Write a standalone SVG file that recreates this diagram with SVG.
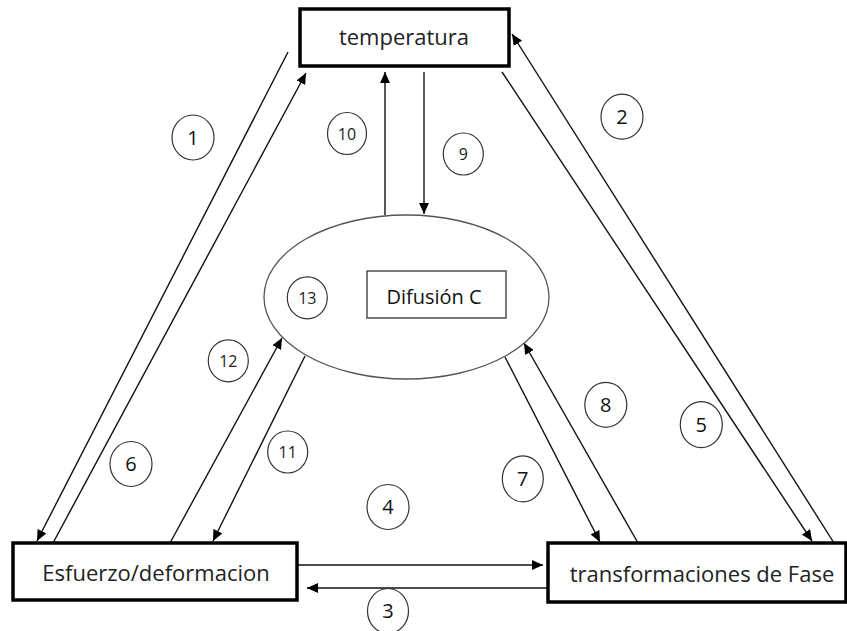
<svg xmlns="http://www.w3.org/2000/svg" width="847" height="631" viewBox="0 0 847 631">
<defs>
<marker id="ah" viewBox="0 0 10 9" refX="10" refY="4.5" markerWidth="11" markerHeight="10" markerUnits="userSpaceOnUse" orient="auto">
<path d="M0,0 L10,4.5 L0,9 z" fill="#000"/>
</marker>
<style>
.box{fill:#fff;stroke:#000;stroke-width:3.5}
.lbl{font-family:"Open Sans","Noto Sans",sans-serif;font-size:22px;fill:#222;text-anchor:middle}
.c{fill:none;stroke:#333;stroke-width:1.2}
.n{font-family:"Open Sans","Noto Sans",sans-serif;font-size:20px;fill:#111;text-anchor:middle}
.ns{font-family:"Open Sans","Noto Sans",sans-serif;font-size:16px;fill:#222;text-anchor:middle}
.ln{stroke:#111;stroke-width:1.4;fill:none}
.ar{stroke:#111;stroke-width:1.4;fill:none;marker-end:url(#ah)}
</style>
</defs>
<rect width="847" height="631" fill="#fff"/>
<g id="connectors">
<line class="ar" x1="288" y1="52" x2="37" y2="541"/>
<line class="ar" x1="53" y1="543" x2="306" y2="73"/>
<line class="ar" x1="834" y1="543" x2="512" y2="34"/>
<line class="ar" x1="502" y1="72" x2="812" y2="541"/>
<line class="ar" x1="385" y1="215" x2="385" y2="72"/>
<line class="ar" x1="424" y1="72" x2="424" y2="214"/>
<line class="ar" x1="170" y1="543" x2="282" y2="338"/>
<line class="ar" x1="305" y1="356" x2="213" y2="541"/>
<line class="ar" x1="505" y1="357" x2="600" y2="542"/>
<line class="ar" x1="638" y1="543" x2="524" y2="343"/>
<line class="ar" x1="297" y1="565" x2="543" y2="565"/>
<line class="ar" x1="548" y1="588" x2="307" y2="588"/>
</g>
<g id="temperatura">
<rect class="box" x="300" y="9" width="209" height="57"/>
<text class="lbl" x="404" y="45">temperatura</text>
</g>
<g id="esfuerzo">
<rect class="box" x="13" y="543" width="284" height="57"/>
<text class="lbl" x="156" y="581">Esfuerzo/deformacion</text>
</g>
<g id="transformaciones">
<rect class="box" x="548" y="543" width="298" height="59"/>
<text class="lbl" x="702" y="582">transformaciones de Fase</text>
</g>
<g id="difusion">
<ellipse cx="406.5" cy="297" rx="142.5" ry="82" fill="none" stroke="#555" stroke-width="1.3"/>
<rect x="367" y="271" width="139" height="47" fill="#fff" stroke="#444" stroke-width="1.4"/>
<text x="434" y="304" font-family="'Open Sans','Noto Sans',sans-serif" font-size="20" fill="#111" text-anchor="middle">Difusión C</text>
</g>
<g id="n1"><ellipse class="c" cx="193" cy="137.5" rx="21" ry="22.5"/><text class="n" x="193" y="144.5">1</text></g>
<g id="n2"><ellipse class="c" cx="622" cy="116.7" rx="21" ry="22.5"/><text class="n" x="622" y="123.7">2</text></g>
<g id="n3"><ellipse class="c" cx="388" cy="611" rx="20.5" ry="22.5"/><text class="n" x="388" y="618">3</text></g>
<g id="n4"><ellipse class="c" cx="388" cy="507" rx="21" ry="22.5"/><text class="n" x="388" y="514">4</text></g>
<g id="n5"><ellipse class="c" cx="701.3" cy="424.7" rx="21" ry="23"/><text class="n" x="701.3" y="431.7">5</text></g>
<g id="n6"><ellipse class="c" cx="131" cy="464" rx="21" ry="22.5"/><text class="n" x="131" y="471">6</text></g>
<g id="n7"><ellipse class="c" cx="522.8" cy="478.8" rx="20.5" ry="23"/><text class="n" x="522.8" y="485.8">7</text></g>
<g id="n8"><ellipse class="c" cx="605.8" cy="404.8" rx="21" ry="22.5"/><text class="n" x="605.8" y="411.8">8</text></g>
<g id="n9"><ellipse class="c" cx="463.3" cy="154" rx="20" ry="21"/><text class="ns" x="463.3" y="160">9</text></g>
<g id="n10"><ellipse class="c" cx="347" cy="133.5" rx="19.5" ry="21"/><text class="ns" x="347" y="139.5">10</text></g>
<g id="n11"><ellipse class="c" cx="287.7" cy="452" rx="20" ry="21"/><text class="ns" x="287.7" y="458">11</text></g>
<g id="n12"><ellipse class="c" cx="228.3" cy="360.8" rx="20" ry="21"/><text class="ns" x="228.3" y="366.8">12</text></g>
<g id="n13"><ellipse class="c" cx="307.3" cy="297.8" rx="20" ry="21"/><text class="ns" x="307.3" y="303.8">13</text></g>
</svg>
